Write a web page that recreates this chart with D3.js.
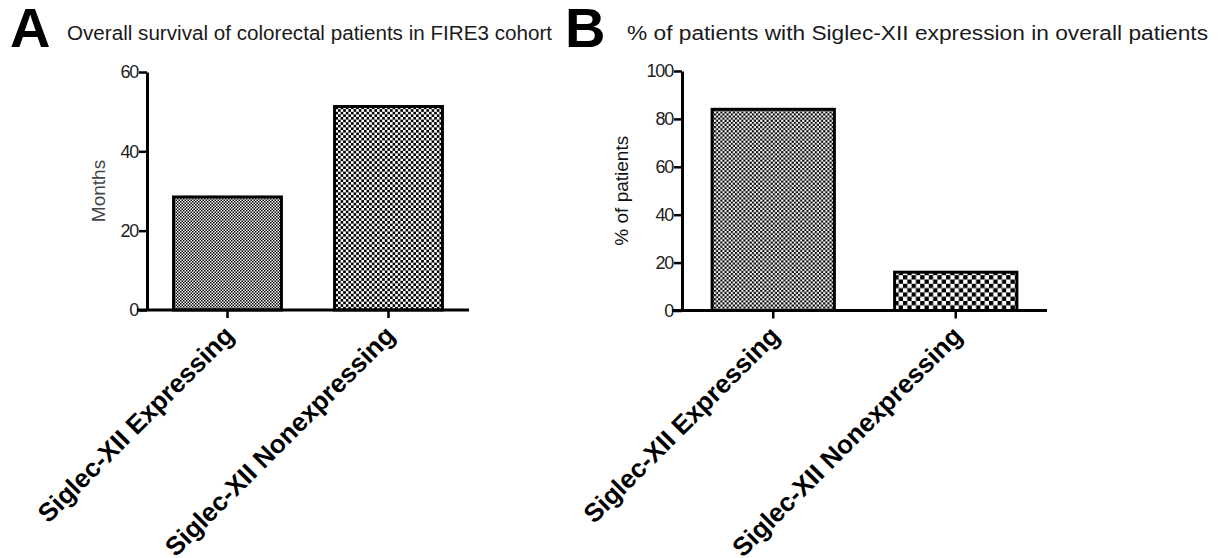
<!DOCTYPE html>
<html>
<head>
<meta charset="utf-8">
<script src="https://cdn.jsdelivr.net/npm/d3@7"></script>
<style>
  body { margin: 0; background: #fff; }
  svg { display: block; font-family: "Liberation Sans", Arial, sans-serif; }
</style>
</head>
<body>
<div id="chart"></div>
<script>
const categories = ["Siglec-XII Expressing", "Siglec-XII Nonexpressing"];
const survivalMonths = [28.5, 51.3];
const percentPatients = [84, 16];
const survivalTicks = [0, 20, 40, 60];
const percentTicks = [0, 20, 40, 60, 80, 100];

const svg = d3.select("#chart")
    .append("svg")
    .attr("width", 1223)
    .attr("height", 558);

const defs = svg.append("defs");

// checkerboard fills, cell size in px
function checker(id, cell) {
    const p = defs.append("pattern")
        .attr("id", id)
        .attr("patternUnits", "userSpaceOnUse")
        .attr("width", cell * 2)
        .attr("height", cell * 2);
    p.append("rect").attr("width", cell * 2).attr("height", cell * 2).attr("fill", "#fff");
    p.append("rect").attr("width", cell).attr("height", cell).attr("fill", "#000");
    p.append("rect").attr("x", cell).attr("y", cell).attr("width", cell).attr("height", cell).attr("fill", "#000");
}
checker("fineA", 1.5);
checker("coarseA", 2.6);
checker("fineB", 2.1);
checker("coarseB", 4.3);

function drawPanel(opt) {
    const g = svg.append("g");

    const x = d3.scaleBand()
        .domain(categories)
        .range(opt.xRange)
        .paddingInner(0.33)
        .paddingOuter(0.165);
    const y = d3.scaleLinear().domain(opt.yDomain).range(opt.yRange);

    // panel letter + title
    g.append("text")
        .attr("x", opt.letterX).attr("y", 47)
        .attr("font-size", 56).attr("font-weight", "bold")
        .attr("fill", "#000")
        .text(opt.letter);
    g.append("text")
        .attr("x", opt.titleX).attr("y", 40)
        .attr("font-size", 19.5).attr("fill", "#1a1a1a")
        .attr("textLength", opt.titleLen).attr("lengthAdjust", "spacingAndGlyphs")
        .text(opt.title);

    // bars
    g.selectAll(".bar")
        .data(opt.values)
        .enter()
        .append("rect")
        .attr("class", "bar")
        .attr("x", (d, i) => x(categories[i]))
        .attr("y", d => y(d))
        .attr("width", x.bandwidth())
        .attr("height", d => y(0) - y(d))
        .attr("fill", (d, i) => `url(#${opt.fills[i]})`)
        .attr("stroke", "#000")
        .attr("stroke-width", 3);

    // y axis
    const yAxis = g.append("g")
        .attr("transform", `translate(${opt.xRange[0]},0)`)
        .call(d3.axisLeft(y).tickValues(opt.ticks).tickSize(8).tickSizeOuter(0).tickPadding(1));
    yAxis.select(".domain").attr("stroke-width", 3);
    yAxis.selectAll(".tick line").attr("stroke-width", 2.5);
    yAxis.selectAll(".tick text")
        .attr("font-size", 18)
        .attr("letter-spacing", -1.2)
        .attr("fill", "#222")
        .attr("font-family", "Liberation Sans, Arial, sans-serif");

    g.append("text")
        .attr("transform", `translate(${opt.yLabelX},${(opt.yRange[0] + opt.yRange[1]) / 2}) rotate(-90)`)
        .attr("text-anchor", "middle")
        .attr("font-size", 19)
        .attr("fill", opt.yLabelColor)
        .text(opt.yLabel);

    // x axis
    const xAxis = g.append("g")
        .attr("transform", `translate(0,${y(0)})`)
        .call(d3.axisBottom(x).tickSize(8).tickSizeOuter(0));
    xAxis.select(".domain").remove();
    xAxis.selectAll(".tick line").attr("stroke-width", 2.5);
    xAxis.selectAll(".tick text")
        .attr("x", null).attr("y", null).attr("dy", null)
        .attr("text-anchor", "end")
        .attr("transform", "translate(8,27) rotate(-45)")
        .attr("font-size", 26)
        .attr("font-weight", "bold")
        .attr("fill", "#000")
        .attr("font-family", "Liberation Sans, Arial, sans-serif");
    g.append("line")
        .attr("x1", opt.xRange[0] - 10).attr("x2", opt.xRange[1])
        .attr("y1", y(0)).attr("y2", y(0))
        .attr("stroke", "#000").attr("stroke-width", 3);
}

drawPanel({
    letter: "A", letterX: 10,
    title: "Overall survival of colorectal patients in FIRE3 cohort", titleX: 67, titleLen: 485,
    values: survivalMonths, ticks: survivalTicks,
    xRange: [147, 469], yRange: [310, 72], yDomain: [0, 60],
    fills: ["fineA", "coarseA"],
    yLabel: "Months", yLabelX: 105, yLabelColor: "#444"
});

drawPanel({
    letter: "B", letterX: 565,
    title: "% of patients with Siglec-XII expression in overall patients", titleX: 627, titleLen: 581,
    values: percentPatients, ticks: percentTicks,
    xRange: [682, 1047], yRange: [310.5, 71], yDomain: [0, 100],
    fills: ["fineB", "coarseB"],
    yLabel: "% of patients", yLabelX: 628, yLabelColor: "#111"
});
</script>
</body>
</html>
